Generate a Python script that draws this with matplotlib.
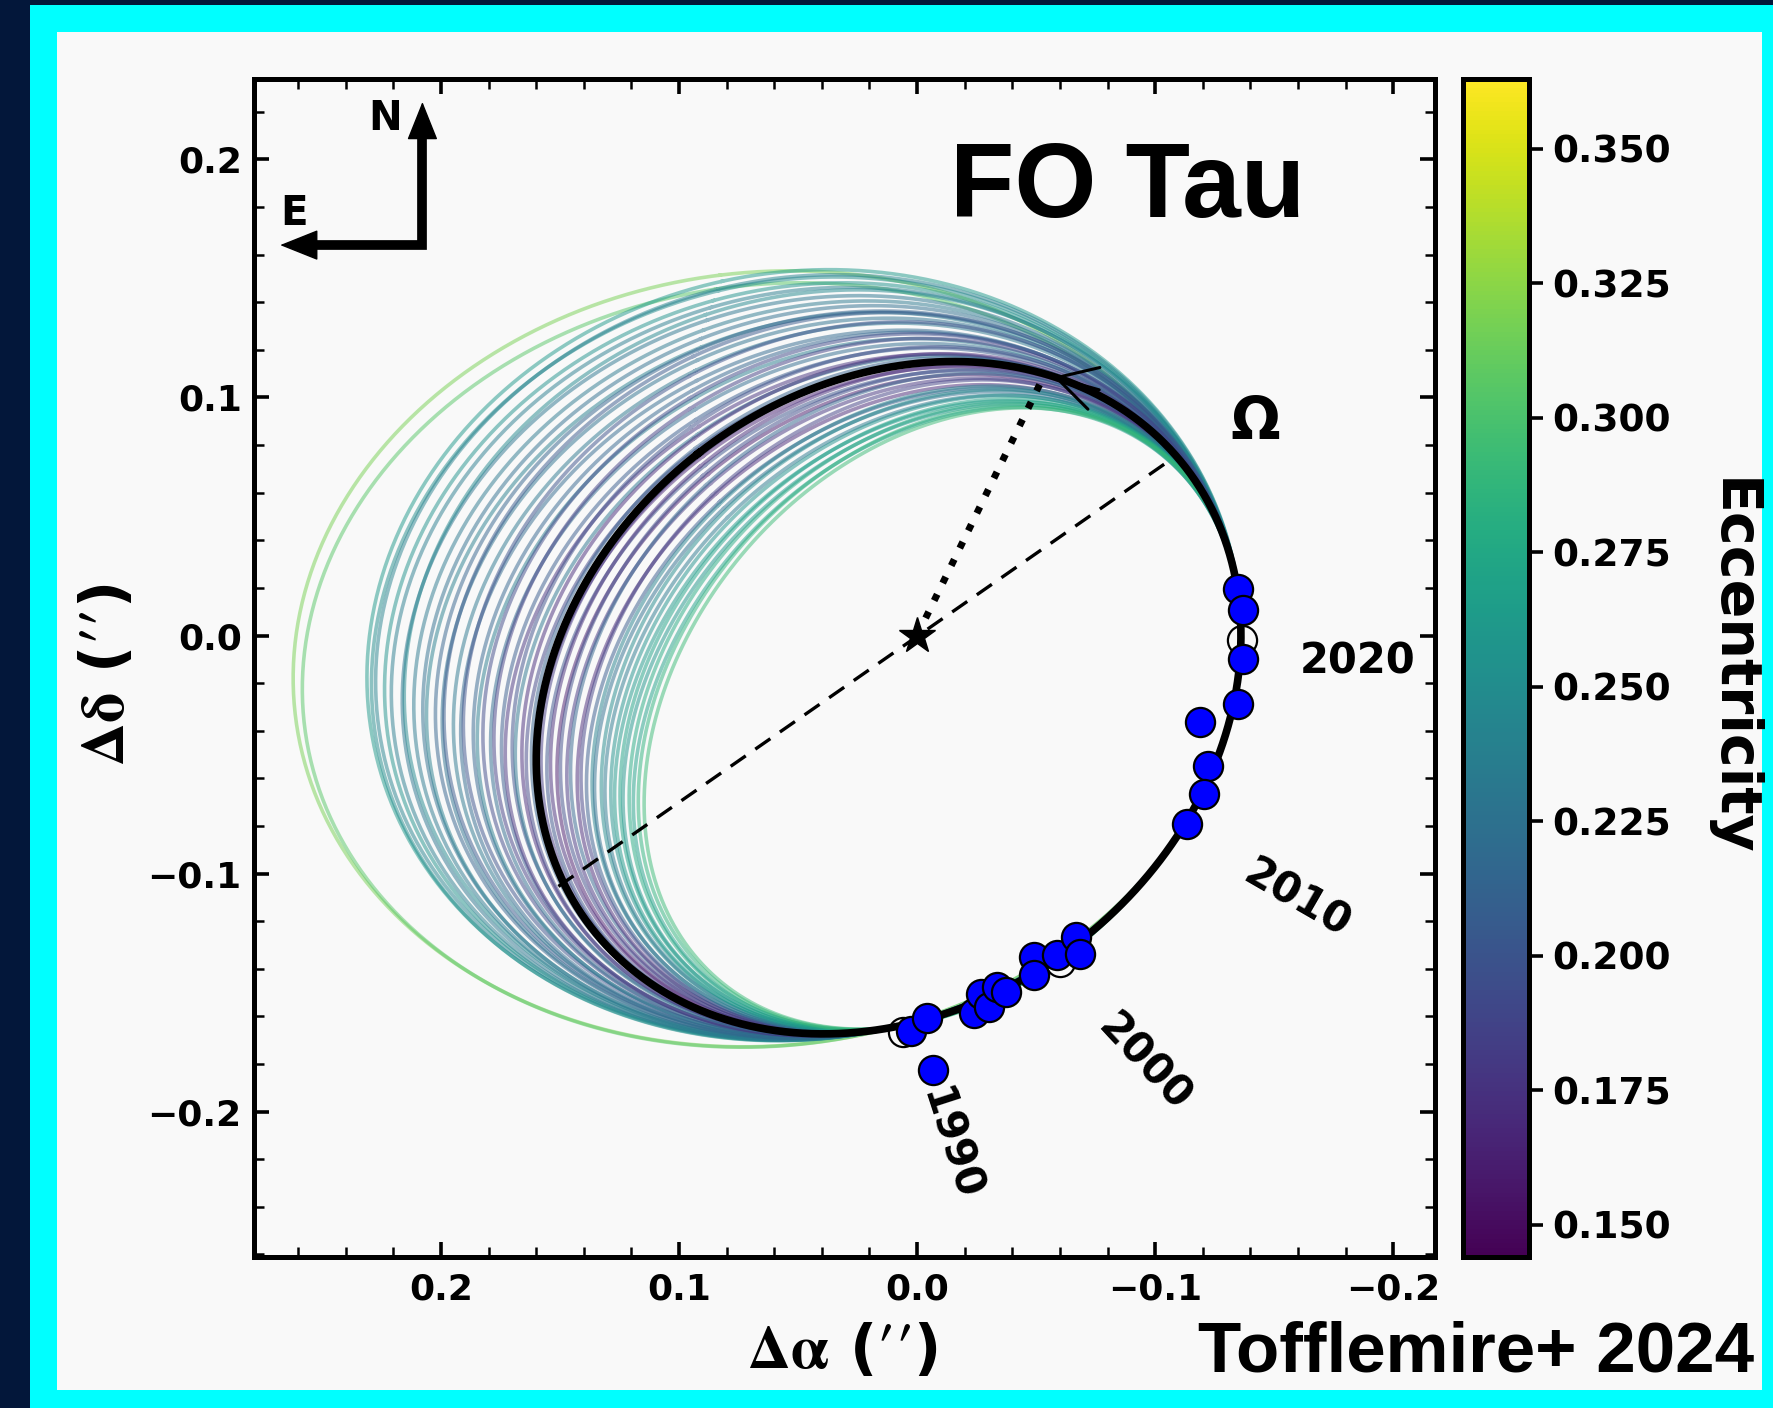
import numpy as np
import matplotlib
matplotlib.use("Agg")
import matplotlib.pyplot as plt
from matplotlib.patches import Rectangle
from matplotlib.colors import Normalize
from matplotlib import cm
from matplotlib.ticker import MultipleLocator, FormatStrFormatter

plt.rcParams['font.family'] = ['DejaVu Sans']
plt.rcParams['font.weight'] = 'bold'
plt.rcParams['mathtext.fontset'] = 'stix'

# ---------------- data ----------------
# best-fit orbit: points
best_x = [0.160, -0.0097, -0.1349, -0.0741, 0.0463]
best_y = [-0.0523, 0.1150, -0.0174, -0.1238, -0.1672]

# all sampled orbits meet the best fit along the observed arc
anchor_right_y = [0.000, -0.085]   # heights on the right-hand arc
anchor_bottom_x = [0.010]          # abscissa on the bottom arc

# each sampled orbit: x where it crosses cut_y on the left,
# y where it crosses tr_x near the top right
cut_y = -0.0523
tr_x = -0.057
orbit_left_x = [
    0.2576, 0.2548, 0.2268, 0.2255, 0.2236, 0.2205, 0.2180, 0.2140, 0.2128, 0.2095,
    0.2060, 0.2048, 0.2010, 0.1985, 0.1975, 0.1940, 0.1912, 0.1898, 0.1860, 0.1845,
    0.1820, 0.1790, 0.1775, 0.1745, 0.1730, 0.1700, 0.1688, 0.1660, 0.1642, 0.1620,
    0.1595, 0.1580, 0.1555, 0.1540, 0.1512, 0.1498, 0.1470, 0.1455, 0.1425, 0.1410,
    0.1385, 0.1362, 0.1350, 0.1322, 0.1305, 0.1280, 0.1262, 0.1240, 0.1225, 0.1200,
    0.1180, 0.1160, 0.1134,
]
orbit_tr_y = [
    0.125, 0.122, 0.130, 0.128, 0.129, 0.127, 0.126, 0.124, 0.126, 0.123,
    0.122, 0.120, 0.121, 0.119, 0.121, 0.118, 0.116, 0.119, 0.116, 0.114,
    0.116, 0.113, 0.115, 0.112, 0.110, 0.113, 0.110, 0.111, 0.108, 0.110,
    0.107, 0.109, 0.106, 0.108, 0.105, 0.107, 0.104, 0.106, 0.102, 0.104,
    0.101, 0.102, 0.100, 0.101, 0.099, 0.099, 0.097, 0.098, 0.096, 0.097,
    0.095, 0.096, 0.095,
]
orbit_ecc = [
    0.318, 0.305, 0.262, 0.250, 0.240, 0.256, 0.236, 0.228, 0.246, 0.232,
    0.222, 0.238, 0.212, 0.226, 0.204, 0.230, 0.218, 0.198, 0.214, 0.235,
    0.192, 0.220, 0.185, 0.205, 0.176, 0.196, 0.228, 0.170, 0.188, 0.210,
    0.165, 0.182, 0.200, 0.172, 0.160, 0.194, 0.178, 0.215, 0.168, 0.186,
    0.205, 0.240, 0.222, 0.248, 0.232, 0.256, 0.262, 0.270, 0.258, 0.278,
    0.268, 0.285, 0.292,
]

det_x = [-0.1349, -0.1368, -0.1368, -0.1349, -0.1189, -0.1224, -0.1206, -0.1133,
         -0.0066, 0.0026, -0.0041, -0.0237, -0.0270, -0.0300, -0.0335, -0.0374,
         -0.0490, -0.0490, -0.0586, -0.0669, -0.0683]
det_y = [0.0197, 0.0106, -0.0097, -0.0286, -0.0363, -0.0549, -0.0664, -0.0793,
         -0.1826, -0.1661, -0.1609, -0.1588, -0.1504, -0.1560, -0.1476, -0.1497,
         -0.1350, -0.1427, -0.1343, -0.1266, -0.1336]
pred_x = [0.0058, -0.0601, -0.1364]
pred_y = [-0.1666, -0.1371, -0.0020]

star_x = [0.0]
star_y = [0.0]
node_x = [0.1507, -0.1063]
node_y = [-0.1054, 0.0737]
peri_x = [0.0, -0.0524]
peri_y = [0.0, 0.1073]
arrow_tip = (-0.0573, 0.1087)
arrow_tail = (-0.0765, 0.1032)

year_labels = ['2020', '2010', '2000', '1990']
year_x = [-0.185, -0.1597, -0.0954, -0.0139]
year_y = [-0.0108, -0.1108, -0.1797, -0.2139]
year_rot = [0, -30, -47, -72]
omega_pos = (-0.142, 0.0896)

cbar_ticks = [0.150, 0.175, 0.200, 0.225, 0.250, 0.275, 0.300, 0.325, 0.350]
ecc_min, ecc_max = 0.144, 0.363
xlim = (0.2785, -0.2175)
ylim = (-0.2611, 0.2338)

# ---------------- helpers ----------------
def conic_through(xs, ys):
    xs = np.asarray(xs, float); ys = np.asarray(ys, float)
    M = np.column_stack([xs**2, xs*ys, ys**2, xs, ys, np.ones_like(xs)])
    _, _, vt = np.linalg.svd(M)
    return vt[-1]

def conic_curve(coef, n=720):
    A, B, C, D, E, F = coef
    Q = np.array([[A, B/2], [B/2, C]])
    c = np.linalg.solve(2*Q, -np.array([D, E]))
    Fc = A*c[0]**2 + B*c[0]*c[1] + C*c[1]**2 + D*c[0] + E*c[1] + F
    w, v = np.linalg.eigh(Q)
    r = np.sqrt(np.abs(Fc / w))
    t = np.linspace(0, 2*np.pi, n)
    pts = c[:, None] + v[:, [0]]*r[0]*np.cos(t) + v[:, [1]]*r[1]*np.sin(t)
    return pts[0], pts[1]

def x_at_y(coef, y):
    A, B, C, D, E, F = coef
    return np.roots([A, B*y + D, C*y*y + E*y + F]).real.min()

def y_at_x(coef, x):
    A, B, C, D, E, F = coef
    return np.roots([C, B*x + E, A*x*x + D*x + F]).real.min()

best_coef = conic_through(best_x, best_y)
anc_x = [x_at_y(best_coef, y) for y in anchor_right_y] + list(anchor_bottom_x)
anc_y = list(anchor_right_y) + [y_at_x(best_coef, x) for x in anchor_bottom_x]

# ---------------- figure ----------------
W, H = 1773, 1408
fig = plt.figure(figsize=(W/100, H/100), dpi=100, facecolor='#03173a')
fig.patches.append(Rectangle((30/W, 0), 1 - 30/W, (H-5)/H, transform=fig.transFigure,
                             facecolor='#00ffff', edgecolor='none', zorder=-10))
fig.patches.append(Rectangle((57/W, 18/H), (1762-57)/W, (1390-32)/H, transform=fig.transFigure,
                             facecolor='#f9f9f9', edgecolor='none', zorder=-9))

ax = fig.add_axes([254/W, (H-1257)/H, (1435-254)/W, (1257-79)/H])
ax.set_facecolor('#f9f9f9')

cmap = plt.get_cmap('viridis')
norm = Normalize(ecc_min, ecc_max)

for lx, ty, e in zip(orbit_left_x, orbit_tr_y, orbit_ecc):
    coef = conic_through(anc_x + [lx, tr_x], anc_y + [cut_y, ty])
    ox, oy = conic_curve(coef)
    ax.plot(ox, oy, color=cmap(norm(e)), lw=2.6, alpha=0.5, zorder=1)

bx, by = conic_curve(best_coef)
ax.plot(bx, by, color='k', lw=5.5, zorder=3)

ax.plot(node_x, node_y, color='k', lw=2.4, ls=(0, (5.5, 3.5)), zorder=4)
ax.plot(peri_x, peri_y, color='k', lw=5, ls=(0, (1, 1.8)), zorder=4)
ax.annotate('', xy=arrow_tip, xytext=arrow_tail,
            arrowprops=dict(arrowstyle='->,head_length=1.4,head_width=0.78', lw=2.2,
                            color='k', mutation_scale=20, shrinkA=0, shrinkB=0), zorder=5)
ax.plot(star_x, star_y, marker='*', ms=27, color='k', ls='none', zorder=5)

ax.plot(pred_x, pred_y, 'o', ms=21, mfc='none', mec='k', mew=1.6, ls='none', zorder=6)
ax.plot(det_x, det_y, 'o', ms=21, mfc='#0000ff', mec='k', mew=1.6, ls='none', zorder=7)

for lab, x, y, r in zip(year_labels, year_x, year_y, year_rot):
    ax.text(x, y, lab, rotation=r, rotation_mode='anchor', ha='center', va='center',
            fontsize=30, fontweight='bold', zorder=8)
ax.text(omega_pos[0], omega_pos[1], 'Ω', ha='center', va='center', fontsize=42,
        fontweight='bold', zorder=8)

# compass
ax.plot([0.052, 0.1425, 0.1425], [0.859, 0.859, 0.951], transform=ax.transAxes,
        color='k', lw=7, solid_joinstyle='miter', solid_capstyle='butt', zorder=8)
for tip, base in [((0.1425, 0.9805), (0.1425, 0.945)), ((0.022, 0.859), (0.058, 0.859))]:
    ax.annotate('', xy=tip, xytext=base, xycoords='axes fraction', textcoords='axes fraction',
                arrowprops=dict(arrowstyle='-|>,head_length=1.25,head_width=0.5', lw=1,
                                color='k', mutation_scale=20, shrinkA=0, shrinkB=0), zorder=8)
ax.text(0.1113, 0.966, 'N', transform=ax.transAxes, ha='center', va='center', fontsize=29,
        fontweight='bold')
ax.text(0.0335, 0.8854, 'E', transform=ax.transAxes, ha='center', va='center', fontsize=29,
        fontweight='bold')

ax.set_xlim(*xlim)
ax.set_ylim(*ylim)
ax.set_aspect('equal', adjustable='box')
ax.xaxis.set_major_locator(MultipleLocator(0.1))
ax.yaxis.set_major_locator(MultipleLocator(0.1))
ax.xaxis.set_minor_locator(MultipleLocator(0.02))
ax.yaxis.set_minor_locator(MultipleLocator(0.02))
ax.tick_params(which='both', direction='in', top=True, right=True, labelsize=26)
ax.tick_params(which='major', length=11, width=2.6)
ax.tick_params(which='minor', length=7, width=1.8)
ax.tick_params(axis='x', pad=11)
ax.tick_params(axis='y', pad=9)
for s in ax.spines.values():
    s.set_linewidth(3.6)

# colorbar
cax = fig.add_axes([1463/W, (H-1257)/H, 66/W, (1257-79)/H])
sm = cm.ScalarMappable(norm=norm, cmap=cmap)
cb = fig.colorbar(sm, cax=cax, ticks=cbar_ticks)
cb.ax.yaxis.set_major_formatter(FormatStrFormatter('%.3f'))
cb.ax.tick_params(direction='out', length=10, width=2.6, labelsize=27, pad=7)
cb.outline.set_linewidth(3.6)

# labels
fig.text(842/W, 1 - 1351/H, r'$\mathbf{\Delta\alpha}$ ($\prime\prime$)', ha='center', va='center',
         fontsize=43, fontweight='bold')
fig.text(108/W, 1 - 675/H, r'$\mathbf{\Delta\delta}$ ($\prime\prime$)', ha='center', va='center',
         fontsize=43, fontweight='bold', rotation=90)
fig.text(1731/W, 1 - 667/H, 'Eccentricity', ha='center', va='center', rotation=270,
         fontsize=41, fontweight='bold')
fig.text(950/W, (H-217)/H, 'FO Tau', ha='left', va='baseline', fontsize=76,
         fontweight='bold', family=['Liberation Sans', 'DejaVu Sans'])
fig.text(1754/W, (H-1372)/H, 'Tofflemire+ 2024', ha='right', va='baseline', fontsize=51,
         fontweight='bold', family=['Liberation Sans', 'DejaVu Sans'])

fig.savefig('out.png', dpi=100, facecolor=fig.get_facecolor())
